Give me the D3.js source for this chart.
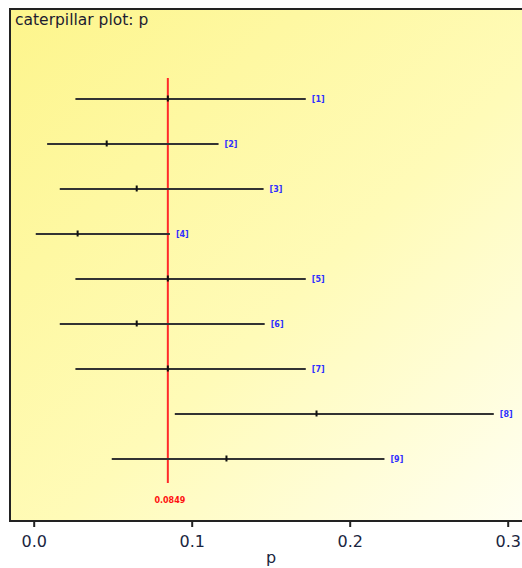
<!DOCTYPE html>
<html><head><meta charset="utf-8">
<script src="https://cdn.jsdelivr.net/npm/d3@7"></script>
<style>body{margin:0;background:#fff}svg{display:block}</style>
</head><body>
<svg id="c" width="522" height="568"></svg>
<script>
const labels = ["[1]","[2]","[3]","[4]","[5]","[6]","[7]","[8]","[9]"];
const lower  = [0.0264, 0.0085, 0.0165, 0.0013, 0.0264, 0.0165, 0.0264, 0.0893, 0.0494];
const means  = [0.0849, 0.0462, 0.0652, 0.0278, 0.0849, 0.0652, 0.0849, 0.179, 0.122];
const upper  = [0.1722, 0.1170, 0.1455, 0.0862, 0.1722, 0.1462, 0.1722, 0.2912, 0.2220];
const refValue = 0.0849;
const xTicks = [0.0, 0.1, 0.2, 0.3];
const title = "caterpillar plot: p";
const xTitle = "p";

const FONT = "DejaVu Sans, Verdana, sans-serif";
const svg = d3.select("#c");
const defs = svg.append("defs");
const g = defs.append("linearGradient").attr("id","bg")
  .attr("x1","0%").attr("y1","0%").attr("x2","100%").attr("y2","100%");
g.append("stop").attr("offset","0%").attr("stop-color","#fdf58c");
g.append("stop").attr("offset","55%").attr("stop-color","#fffbb8");
g.append("stop").attr("offset","100%").attr("stop-color","#fffff4");

const x = d3.scaleLinear().domain([0,0.3]).range([33.7,507.7]);
const y = d3.scaleBand().domain(labels).range([76.5,481.5]);
const yc = d => y(d) + y.bandwidth()/2;

const panel = {x:10, y:9, w:530, h:512};
svg.append("rect").attr("x",panel.x).attr("y",panel.y).attr("width",panel.w).attr("height",panel.h)
  .attr("fill","url(#bg)").attr("stroke","#222").attr("stroke-width",2);

svg.append("text").attr("x",15).attr("y",25).text(title)
  .attr("font-family",FONT).attr("font-size",15.5).attr("fill","#1c1c30");

// reference line
svg.append("line").attr("x1",x(refValue)).attr("x2",x(refValue)).attr("y1",78).attr("y2",483)
  .attr("stroke","#ff2a2a").attr("stroke-width",2);
svg.append("text").attr("x",x(refValue)+2).attr("y",503).attr("text-anchor","middle")
  .text(refValue.toString()).attr("font-family",FONT).attr("font-weight","bold")
  .attr("font-size",8).attr("fill","#ff1010");

const rows = svg.append("g").selectAll("g").data(labels).join("g");
rows.append("line")
  .attr("x1",(d,i)=>x(lower[i])).attr("x2",(d,i)=>x(upper[i]))
  .attr("y1",d=>yc(d)).attr("y2",d=>yc(d))
  .attr("stroke","#333").attr("stroke-width",2);
rows.append("rect")
  .attr("x",(d,i)=>x(means[i])-1).attr("y",d=>yc(d)-3.5)
  .attr("width",2).attr("height",6).attr("fill","#111");
rows.append("text")
  .attr("x",(d,i)=>x(upper[i])+6).attr("y",d=>yc(d)+3)
  .text(d=>d).attr("font-family",FONT).attr("font-weight","bold")
  .attr("font-size",8).attr("fill","#3030ff");

// axis
const axis = d3.axisBottom(x).tickValues(xTicks).tickFormat(d3.format(".1f")).tickSize(6).tickPadding(8);
const ax = svg.append("g").attr("transform",`translate(0,${panel.y+panel.h})`).call(axis);
ax.select(".domain").remove();
ax.selectAll(".tick line").attr("stroke","#222").attr("stroke-width",2);
ax.selectAll(".tick text").attr("font-family",FONT).attr("dy",null).attr("y",26)
  .attr("font-size",16).attr("fill","#1a2540");
svg.append("text").attr("x",271).attr("y",563).attr("text-anchor","middle").text(xTitle)
  .attr("font-family",FONT).attr("font-size",16).attr("fill","#1a2540");
</script>
</body></html>
